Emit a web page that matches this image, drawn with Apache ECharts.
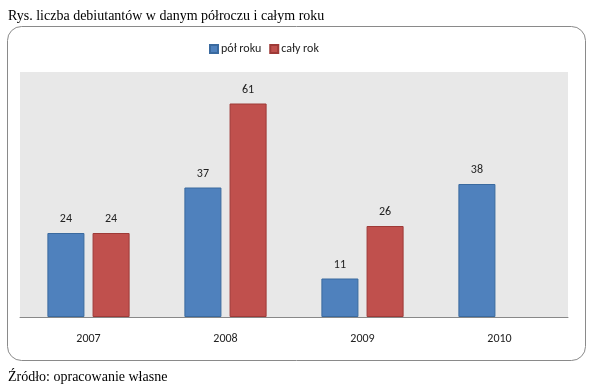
<!DOCTYPE html>
<html><head><meta charset="utf-8">
<script src="https://cdn.jsdelivr.net/npm/echarts@6/dist/echarts.min.js"></script>
<style>html,body{margin:0;padding:0;background:#fff}#c{width:593px;height:389px}</style>
</head><body><div id="c"></div>
<script>
const categories = ['2007','2008','2009','2010'];
const polRoku = [24, 37, 11, 38];
const calyRok = [24, 61, 26, null];
const seriesNames = ['pół roku', 'cały rok'];

const chart = echarts.init(document.getElementById('c'));
const lblFont = 'Carlito, "Open Sans", "DejaVu Sans", sans-serif';
chart.setOption({
  animation: false,
  backgroundColor: '#fff',
  title: [
    {text: 'Rys. liczba debiutantów w danym półroczu i całym roku', left: 3, top: 4,
     textStyle: {fontFamily: '"Liberation Serif", serif', fontSize: 14, fontWeight: 'normal', color: '#000'}},
    {text: 'Źródło: opracowanie własne', left: 3, top: 365,
     textStyle: {fontFamily: '"Liberation Serif", serif', fontSize: 14, fontWeight: 'normal', color: '#000'}}
  ],
  graphic: [{
    type: 'rect', z: -10, silent: true,
    shape: {x: 7.5, y: 26.5, width: 578, height: 334, r: 14},
    style: {fill: '#fff', stroke: '#8a8a8a', lineWidth: 1}
  }],
  legend: {
    data: seriesNames, top: 38, left: 204, itemWidth: 8, itemHeight: 8, itemGap: 8,
    icon: 'rect',
    textStyle: {fontFamily: lblFont, fontSize: 12, color: '#222', padding: [0,0,0,-2]}
  },
  grid: {left: 20, right: 25, top: 72, bottom: 72, show: true, backgroundColor: '#E8E8E8', borderWidth: 0},
  xAxis: {
    type: 'category', data: categories,
    axisLine: {lineStyle: {color: '#888', width: 1}},
    axisTick: {show: false},
    axisLabel: {margin: 16, fontFamily: lblFont, fontSize: 12, color: '#222'}
  },
  yAxis: {type: 'value', min: 0, max: 70, show: false, splitLine: {show: false}},
  series: [
    {name: seriesNames[0], type: 'bar', data: polRoku, barGap: '22%', barCategoryGap: '40%',
     itemStyle: {color: '#4F81BD', borderColor: '#3A6A9F', borderWidth: 1},
     label: {show: true, position: 'top', distance: 8, fontFamily: lblFont, fontSize: 12, color: '#222'}},
    {name: seriesNames[1], type: 'bar', data: calyRok,
     itemStyle: {color: '#C0504D', borderColor: '#9E3A37', borderWidth: 1},
     label: {show: true, position: 'top', distance: 8, fontFamily: lblFont, fontSize: 12, color: '#222'}}
  ]
});
</script></body></html>
